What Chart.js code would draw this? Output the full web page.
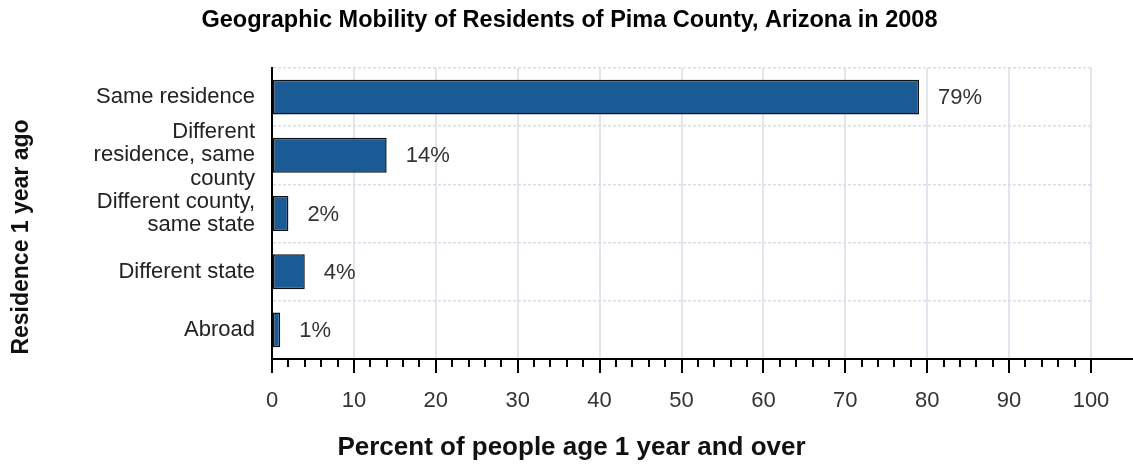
<!DOCTYPE html>
<html>
<head>
<meta charset="utf-8">
<script src="https://cdn.jsdelivr.net/npm/chart.js@4/dist/chart.umd.min.js"></script>
<style>
  html, body { margin: 0; padding: 0; background: #fff; }
  #wrap { width: 1133px; height: 466px; position: relative; }
</style>
</head>
<body>
<div id="wrap"><canvas id="mobilityChart"></canvas></div>
<script>
// chart data
const categories = [
    ['Same residence'],
    ['Different', 'residence, same', 'county'],
    ['Different county,', 'same state'],
    ['Different state'],
    ['Abroad']
];
const percents = [79, 14, 2, 4, 1];
const xTicks = [0, 10, 20, 30, 40, 50, 60, 70, 80, 90, 100];
const minorStep = 2;

const chartTitle = 'Geographic Mobility of Residents of Pima County, Arizona in 2008';
const xTitle = 'Percent of people age 1 year and over';
const yTitle = 'Residence 1 year ago';

const FONT = '"Liberation Sans", Arial, sans-serif';

// value labels to the right of each bar
const barLabels = {
    id: 'barLabels',
    afterDatasetsDraw(chart) {
        const ctx = chart.ctx;
        const meta = chart.getDatasetMeta(0);
        ctx.save();
        ctx.font = '22px ' + FONT;
        ctx.fillStyle = '#333';
        ctx.textAlign = 'left';
        ctx.textBaseline = 'middle';
        meta.data.forEach((bar, i) => {
            ctx.fillText(percents[i] + '%', bar.x + 19, bar.y + 1);
        });
        ctx.restore();
    }
};

// major + minor tick marks, the axis line running to the edge, and the titles
// (titles are centred on the whole page in the original, not on the plot)
const axisTicks = {
    id: 'axisTicks',
    afterDraw(chart) {
        const ctx = chart.ctx;
        const xs = chart.scales.x;
        const y0 = chart.chartArea.bottom;
        const mid = chart.width / 2;
        ctx.save();
        ctx.strokeStyle = '#000';
        ctx.lineWidth = 2;
        ctx.beginPath();
        ctx.moveTo(chart.chartArea.left - 1, y0);
        ctx.lineTo(chart.width, y0);
        ctx.stroke();
        for (let v = xs.min; v <= xs.max; v += minorStep) {
            const px = Math.round(xs.getPixelForValue(v));
            const len = xTicks.includes(v) ? 14 : 8;
            ctx.beginPath();
            ctx.moveTo(px, y0);
            ctx.lineTo(px, y0 + len);
            ctx.stroke();
        }
        ctx.textAlign = 'center';
        ctx.textBaseline = 'middle';
        ctx.fillStyle = '#000';
        ctx.font = 'bold 23.5px ' + FONT;
        ctx.fillText(chartTitle, mid + 3, 21);
        ctx.fillStyle = '#111';
        ctx.font = 'bold 26px ' + FONT;
        ctx.fillText(xTitle, mid + 5, 448);
        ctx.translate(22, 237);
        ctx.rotate(-Math.PI / 2);
        ctx.font = 'bold 23px ' + FONT;
        ctx.fillText(yTitle, 0, 0);
        ctx.restore();
    }
};

const ctx = document.getElementById('mobilityChart').getContext('2d');
new Chart(ctx, {
    type: 'bar',
    data: {
        labels: categories,
        datasets: [{
            label: 'Percent',
            data: percents,
            backgroundColor: '#1a5b96',
            borderColor: '#111',
            borderWidth: 1.5,
            borderSkipped: false,
            categoryPercentage: 1,
            barPercentage: 0.6
        }]
    },
    options: {
        indexAxis: 'y',
        responsive: true,
        maintainAspectRatio: false,
        animation: false,
        layout: { padding: { top: 68, right: 42, bottom: 0, left: 0 } },
        scales: {
            x: {
                type: 'linear',
                min: 0, max: 100,
                afterBuildTicks: (scale) => { scale.ticks = xTicks.map(v => ({ value: v })); },
                afterFit: (scale) => {
                    scale.height = 107;
                    scale.paddingLeft = 0;
                    scale.paddingRight = 0;
                },
                grid: { color: '#e4e4ee', lineWidth: 2, drawTicks: false },
                border: { display: true, color: '#000', width: 2 },
                ticks: { color: '#333', font: { family: FONT, size: 22 }, padding: 29, maxRotation: 0 },
                title: { display: false }
            },
            y: {
                afterFit: (scale) => { scale.width = 272; },
                grid: { color: '#dcdce4', lineWidth: 1.5, drawTicks: false, offset: true },
                border: { display: true, color: '#000', width: 2, dash: [3, 2] },
                ticks: { color: '#222', font: { family: FONT, size: 22, lineHeight: 1.07 }, padding: 17, autoSkip: false },
                title: { display: false }
            }
        },
        plugins: {
            legend: { display: false },
            tooltip: { enabled: false },
            title: { display: false }
        }
    },
    plugins: [barLabels, axisTicks]
});
</script>
</body>
</html>
